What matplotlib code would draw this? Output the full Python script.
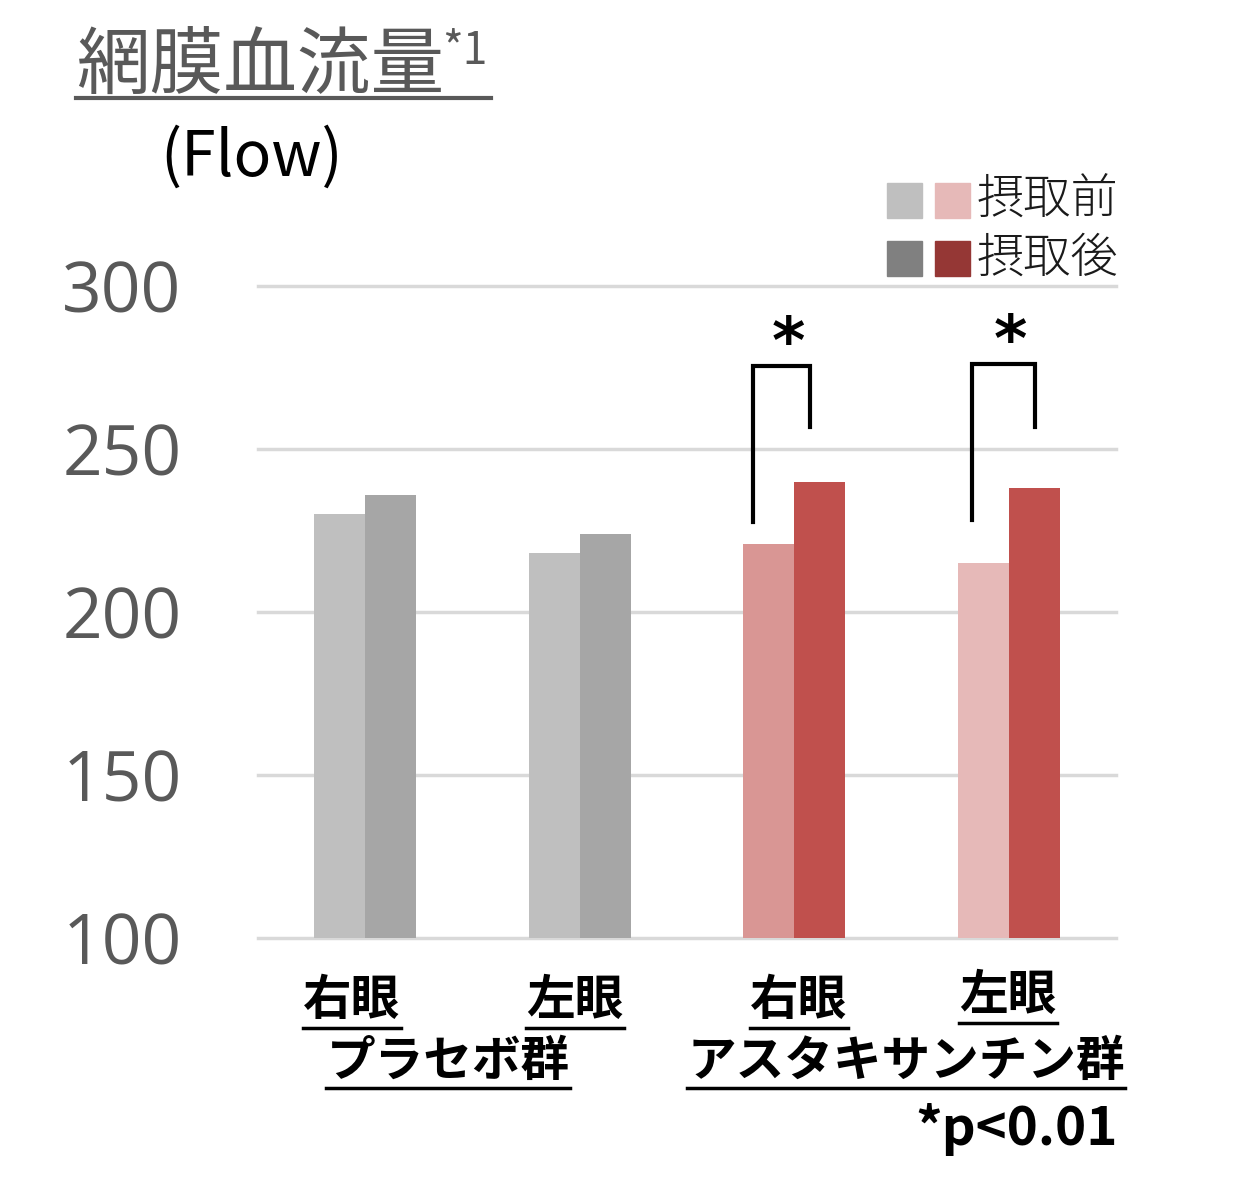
import matplotlib
matplotlib.use("Agg")
import matplotlib.pyplot as plt
from matplotlib.lines import Line2D
import numpy as np

plt.rcParams['font.family'] = ['Noto Sans CJK JP', 'DejaVu Sans']

# データ
eyes = ['右眼', '左眼', '右眼', '左眼']
groups = ['プラセボ群', 'アスタキサンチン群']
before = [230, 218, 221, 215]
after = [236, 224, 240, 238]
before_colors = ['#BFBFBF', '#BFBFBF', '#D99694', '#E6B9B8']
after_colors = ['#A6A6A6', '#A6A6A6', '#C0504D', '#C0504D']
yticks = [100, 150, 200, 250, 300]
legend_labels = ['摂取前', '摂取後']
legend_colors = [['#BFBFBF', '#E6B9B8'], ['#808080', '#953735']]

W, H = 1240, 1199
fig = plt.figure(figsize=(W / 100, H / 100), dpi=100)
ax = fig.add_axes([258 / W, 261 / H, 858 / W, 652 / H])

x = np.arange(len(eyes))
w = 0.237
ax.bar(x - w / 2, np.array(before) - 100, w, bottom=100, color=before_colors, zorder=3)
ax.bar(x + w / 2, np.array(after) - 100, w, bottom=100, color=after_colors, zorder=3)

ax.set_xlim(-0.5, 3.5)
ax.set_ylim(100, 300)
ax.set_yticks(yticks)
ax.set_yticklabels([str(t) for t in yticks], fontsize=50, color='#595959',
                   family=['Open Sans', 'DejaVu Sans'])
ax.tick_params(axis='y', length=0, pad=55)
ax.set_xticks([])
for s in ax.spines.values():
    s.set_visible(False)
for t in yticks:
    ax.axhline(t, color='#D9D9D9', lw=2.5, zorder=1, clip_on=False)

# 有意差ブラケット (左脚x, 右脚x, 上端, 左脚下端, 右脚下端)
brackets = [(1.809, 2.075, 275.5, 227.6, 256.7),
            (2.83, 3.124, 276.1, 228.2, 256.7)]
for xl, xr, top, lb, rb in brackets:
    ax.plot([xl, xl, xr, xr], [lb, top, top, rb], color='black', lw=3,
            solid_joinstyle='miter', zorder=4, clip_on=False)
    ax.text((xl + xr) / 2 + 0.03, top - 3, '*', fontsize=46, fontweight='bold',
            ha='center', va='bottom', family=['DejaVu Sans'], clip_on=False)

fig.canvas.draw()
renderer = fig.canvas.get_renderer()


def underline(txt, dy, lw, color):
    bb = txt.get_window_extent(renderer)
    y = (bb.y0 - dy) / H
    fig.add_artist(Line2D([bb.x0 / W, bb.x1 / W], [y, y], color=color, lw=lw))


# タイトル
t1 = fig.text(76 / W, 1 - 88 / H, '網膜血流量', fontsize=53, color='#595959',
              fontweight='normal', ha='left', va='baseline')
fig.canvas.draw()
bb = t1.get_window_extent(renderer)
fig.text(bb.x1 / W - 0.002, 1 - 64 / H, '*1', fontsize=32, color='#595959',
         ha='left', va='baseline')
fig.add_artist(Line2D([76 / W, 491 / W], [1 - 98 / H, 1 - 98 / H], color='#595959', lw=3))
fig.text(160 / W, 1 - 158 / H, '(Flow)', fontsize=45, color='black',
         ha='left', va='center', family=['Noto Sans CJK JP'])

# 凡例
for r, (lab, cols) in enumerate(zip(legend_labels, legend_colors)):
    yc = 200 + r * 58
    for c, col in enumerate(cols):
        x0 = 887 + c * 48
        fig.add_artist(plt.Rectangle((x0 / W, 1 - (yc + 18) / H), 35 / W, 35 / H,
                                     color=col, transform=fig.transFigure))
    fig.text(977 / W, 1 - yc / H, lab, fontsize=34, color='#1a1a1a',
             ha='left', va='center', fontweight='light')

# x軸ラベル
eye_px = [352, 575, 799, 1008]
eye_y = [1000, 1000, 1000, 995]
for lab, px, py in zip(eyes, eye_px, eye_y):
    t = fig.text(px / W, 1 - py / H, lab, fontsize=35, fontweight='bold',
                 ha='center', va='center')
    fig.canvas.draw()
    underline(t, 3, 2.5, 'black')

grp_px = [448, 906]
for lab, px in zip(groups, grp_px):
    t = fig.text(px / W, 1 - 1061 / H, lab, fontsize=35, fontweight='bold',
                 ha='center', va='center')
    fig.canvas.draw()
    underline(t, 2, 2.5, 'black')

fig.text(1118 / W, 1 - 1130 / H, '*p<0.01', fontsize=38, fontweight='bold',
         ha='right', va='center', family=['Noto Sans CJK JP'])

fig.savefig('out.png', dpi=100)
